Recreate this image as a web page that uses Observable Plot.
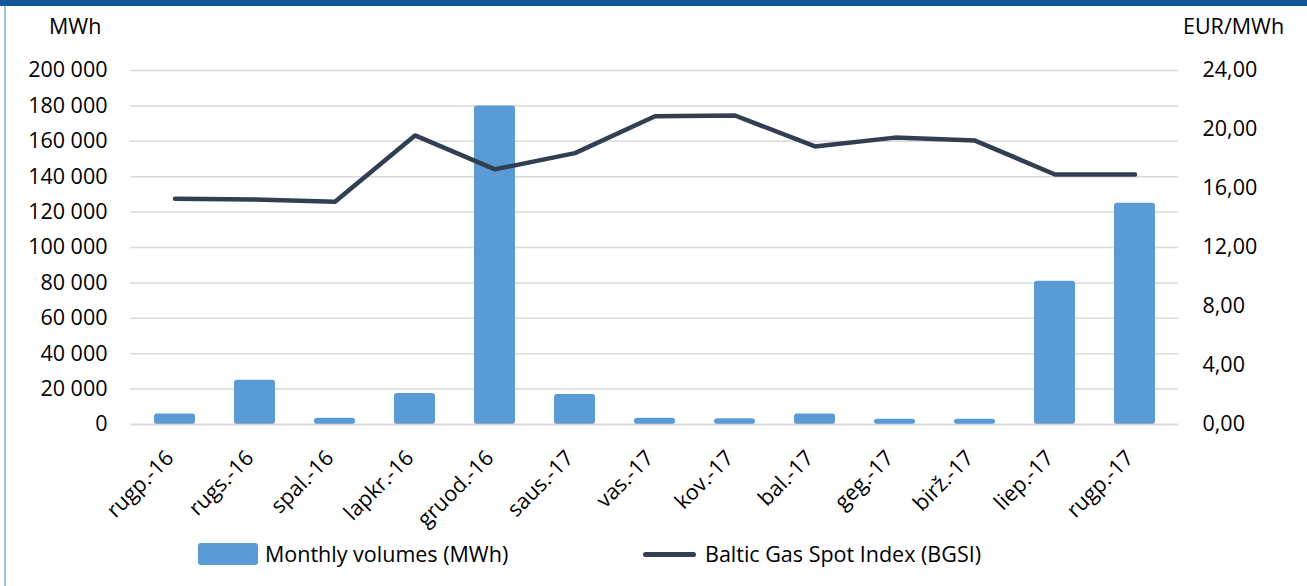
<!DOCTYPE html>
<html>
<head>
<meta charset="utf-8">
<script src="https://cdn.jsdelivr.net/npm/d3@7"></script>
<script src="https://cdn.jsdelivr.net/npm/@observablehq/plot@0.6"></script>
<style>
  html, body { margin: 0; padding: 0; background: #fff; }
  #wrap { position: relative; width: 1307px; height: 586px; overflow: hidden; font-family: "Open Sans", sans-serif; color: #000; }
  #topbar { position: absolute; left: 0; top: 0; width: 1307px; height: 6px; background: #135796; }
  #leftbar { position: absolute; left: 4px; top: 6px; width: 2px; height: 580px; background: #9dc3e6; }
  #chart { position: absolute; left: 0; top: 0; }
  .unit { position: absolute; font-size: 21.5px; line-height: 1; }
  .legend { position: absolute; top: 540px; font-size: 21.5px; line-height: 28px; display: flex; align-items: center; }
  .sw-bar { width: 60px; height: 22px; background: #5b9bd5; border-radius: 3px; margin-right: 7px; }
  .sw-line { width: 53px; height: 5px; background: #323f52; border-radius: 3px; margin-right: 9px; }
</style>
</head>
<body>
<div id="wrap">
  <div id="chart"></div>
  <div id="topbar"></div>
  <div id="leftbar"></div>
  <div class="unit" style="left:49px; top:15px;">MWh</div>
  <div class="unit" style="left:1183px; top:15px;">EUR/MWh</div>
  <div class="legend" style="left:198px;"><div class="sw-bar"></div><span>Monthly volumes (MWh)</span></div>
  <div class="legend" style="left:643px;"><div class="sw-line"></div><span>Baltic Gas Spot Index (BGSI)</span></div>
</div>
<script>
const months = ["rugp.-16","rugs.-16","spal.-16","lapkr.-16","gruod.-16","saus.-17","vas.-17","kov.-17","bal.-17","geg.-17","birž.-17","liep.-17","rugp.-17"];
const volumes = [6000, 25000, 3500, 17500, 180000, 17000, 3500, 3300, 6000, 3000, 3000, 81000, 125000];
const bgsi = [15.3, 15.25, 15.1, 19.6, 17.3, 18.4, 20.9, 20.95, 18.85, 19.45, 19.25, 16.95, 16.95];
const leftTicks = [0, 20000, 40000, 60000, 80000, 100000, 120000, 140000, 160000, 180000, 200000];
const rightTicks = [0, 4, 8, 12, 16, 20, 24];

const k = 200000 / 24; // secondary axis factor
const data = months.map((m, i) => ({month: m, volume: volumes[i], price: bgsi[i]}));
const fmtLeft = d => d3.format(",")(d).replace(/,/g, " ");
const fmtRight = d => (d / k).toFixed(2).replace(".", ",");

const chart = Plot.plot({
  width: 1307,
  height: 520,
  marginLeft: 130,
  marginRight: 129,
  marginTop: 70,
  marginBottom: 96,
  style: {fontFamily: "Open Sans", fontSize: "21.5px", color: "#000", background: "transparent", overflow: "visible"},
  x: {domain: months, paddingInner: 0.49, paddingOuter: 0.245, label: null},
  y: {domain: [0, 200000], label: null},
  marks: [
    Plot.ruleY(leftTicks, {stroke: "#d9d9d9", strokeWidth: 1.5}),
    Plot.barY(data, {x: "month", y: "volume", fill: "#5b9bd5", rx: 3}),
    Plot.ruleY([0], {stroke: "#d9d9d9", strokeWidth: 1.5}),
    Plot.lineY(data, {x: "month", y: d => d.price * k, stroke: "#323f52", strokeWidth: 4.5, strokeLinejoin: "round", strokeLinecap: "round"}),
    Plot.axisY({ticks: leftTicks, tickFormat: fmtLeft, tickSize: 0, tickPadding: 23, label: null}),
    Plot.axisY({anchor: "right", ticks: rightTicks.map(v => v * k), tickFormat: fmtRight, tickSize: 0, tickPadding: 24, label: null}),
    Plot.axisX({tickRotate: -45, tickSize: 0, tickPadding: 10, dy: 20, dx: -5, label: null})
  ]
});
document.getElementById("chart").appendChild(chart);
</script>
</body>
</html>
